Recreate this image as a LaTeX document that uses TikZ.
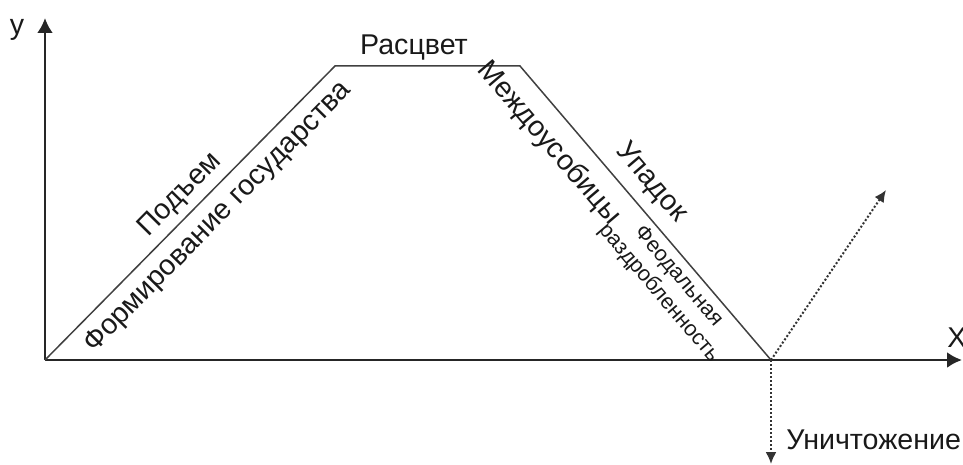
\documentclass[tikz,border=0pt]{standalone}
\usepackage{fontspec}
\setmainfont{Liberation Sans}
\usepackage{tikz}
\usetikzlibrary{arrows.meta}

\begin{document}
\begin{tikzpicture}[x=0.5pt, y=-0.5pt,
    axis/.style={line width=1.3pt, black!85, -{Latex[length=7.5pt,width=8pt]}},
    stage/.style={line width=0.75pt, black!75},
    fate/.style={line width=1pt, black!80, dash pattern=on 1pt off 1pt, -{Latex[length=6pt,width=5.5pt]}},
    lbl/.style={font=\fontsize{14.3}{17}\selectfont, inner sep=1pt, text=black!90},
    small/.style={font=\fontsize{10.8}{13}\selectfont, inner sep=1pt, align=center, text=black!90}]
    \useasboundingbox (0,0) rectangle (963,465);
    \coordinate (O) at (45,360);
    \coordinate (Y) at (45,18);
    \coordinate (X) at (962,360);
    \coordinate (A) at (335,66);
    \coordinate (B) at (520,66);
    \coordinate (C) at (771,360);
    \coordinate (R) at (886,190);
    \coordinate (D) at (771,464);
    \draw[axis] (O) -- (Y);
    \draw[axis] (O) -- (X);
    \node (y) at (17,30) [lbl] {y};
    \node (x) at (957,338) [lbl] {X};
    \draw[stage] (O)
      -- node[lbl, sloped, pos=.515, above=2pt] (rise) {Подъем}
         node[lbl, sloped, pos=.54, below=3.8pt] (form) {Формирование государства} (A)
      -- (B)
      -- node[lbl, sloped, pos=.20, below=6pt] (strife) {Междоусобицы}
         node[lbl, sloped, pos=.45, above=4.3pt] (fall) {Упадок}
         node[small, sloped, pos=.68, below=2pt] (split) {Феодальная\\раздробленность} (C);
    \node (bloom) at (414,48) [lbl] {Расцвет};
    \draw[fate] (C) -- (R);
    \draw[fate] (C) -- (D);
    \node (ruin) at (784,440) [lbl, anchor=west] {Уничтожение};
\end{tikzpicture}
\end{document}
